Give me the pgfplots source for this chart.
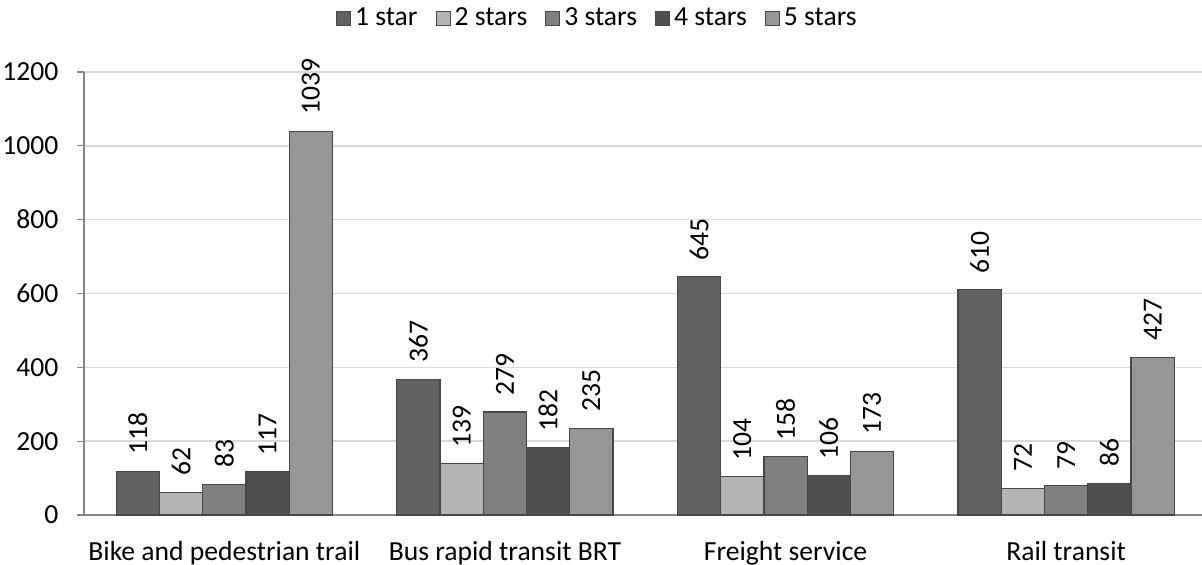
\documentclass[border=0pt]{standalone}
\usepackage{pgfplots}
\pgfplotsset{compat=1.18}
\usepackage{fontspec}
\setmainfont{Carlito}
\definecolor{s1}{HTML}{616161}
\definecolor{s2}{HTML}{B4B4B4}
\definecolor{s3}{HTML}{808080}
\definecolor{s4}{HTML}{4F4F4F}
\definecolor{s5}{HTML}{969696}
\definecolor{edge}{HTML}{474747}
\definecolor{axgray}{HTML}{868686}
\definecolor{gridgray}{HTML}{D9D9D9}
\begin{document}
\fontsize{13.8}{16.5}\selectfont
\begin{tikzpicture}
\useasboundingbox (-42pt,-25pt) rectangle (559pt,257.5pt);
\begin{axis}[
  scale only axis,
  width=559.1pt, height=221.5pt,
  ybar=0pt, bar width=0.154,
  xmin=-0.5, xmax=3.485,
  ymin=0, ymax=1200,
  xtick={0,1,2,3},
  xticklabels={Bike and pedestrian trail, Bus rapid transit BRT, Freight service, Rail transit},
  extra x ticks={0.5,1.5,2.5},
  extra x tick labels={},
  extra x tick style={major tick length=3.5pt, tick style={axgray, line width=0.6pt}, grid=none},
  ytick={0,200,400,600,800,1000,1200},
  axis lines*=left,
  axis line style={axgray, line width=0.8pt},
  x axis line style={-},
  y axis line style={-},
  tick align=outside,
  major tick length=3.5pt,
  xtick style={draw=none},
  ytick style={axgray, line width=0.6pt},
  ymajorgrids,
  grid style={gridgray, line width=0.8pt},
  /pgf/number format/assume math mode=true,
  /pgf/number format/1000 sep={},
  tick label style={font=\fontsize{13.8}{16.5}\selectfont, black},
  yticklabel style={xshift=-4.5pt},
  xticklabel style={yshift=-5pt},
  nodes near coords,
  every node near coord/.append style={rotate=90, anchor=west, inner xsep=8pt, font=\fontsize{13.8}{16.5}\selectfont, black},
  legend style={at={(0.46,1)}, anchor=south, yshift=17pt, draw=none, fill=none, legend columns=-1,
    font=\fontsize{13.8}{16.5}\selectfont, /tikz/every even column/.append style={column sep=7pt}},
  legend image code/.code={\draw[#1, line width=0.5pt] (0pt,-3.3pt) rectangle (7pt,3.7pt);},
  clip=false,
  every axis plot/.append style={draw=edge, line width=0.6pt},
]
\addplot[fill=s1] coordinates {(0,118) (1,367) (2,645) (3,610)};
\addplot[fill=s2] coordinates {(0,62) (1,139) (2,104) (3,72)};
\addplot[fill=s3] coordinates {(0,83) (1,279) (2,158) (3,79)};
\addplot[fill=s4] coordinates {(0,117) (1,182) (2,106) (3,86)};
\addplot[fill=s5] coordinates {(0,1039) (1,235) (2,173) (3,427)};
\legend{1 star, 2 stars, 3 stars, 4 stars, 5 stars}
\end{axis}
\end{tikzpicture}
\end{document}
